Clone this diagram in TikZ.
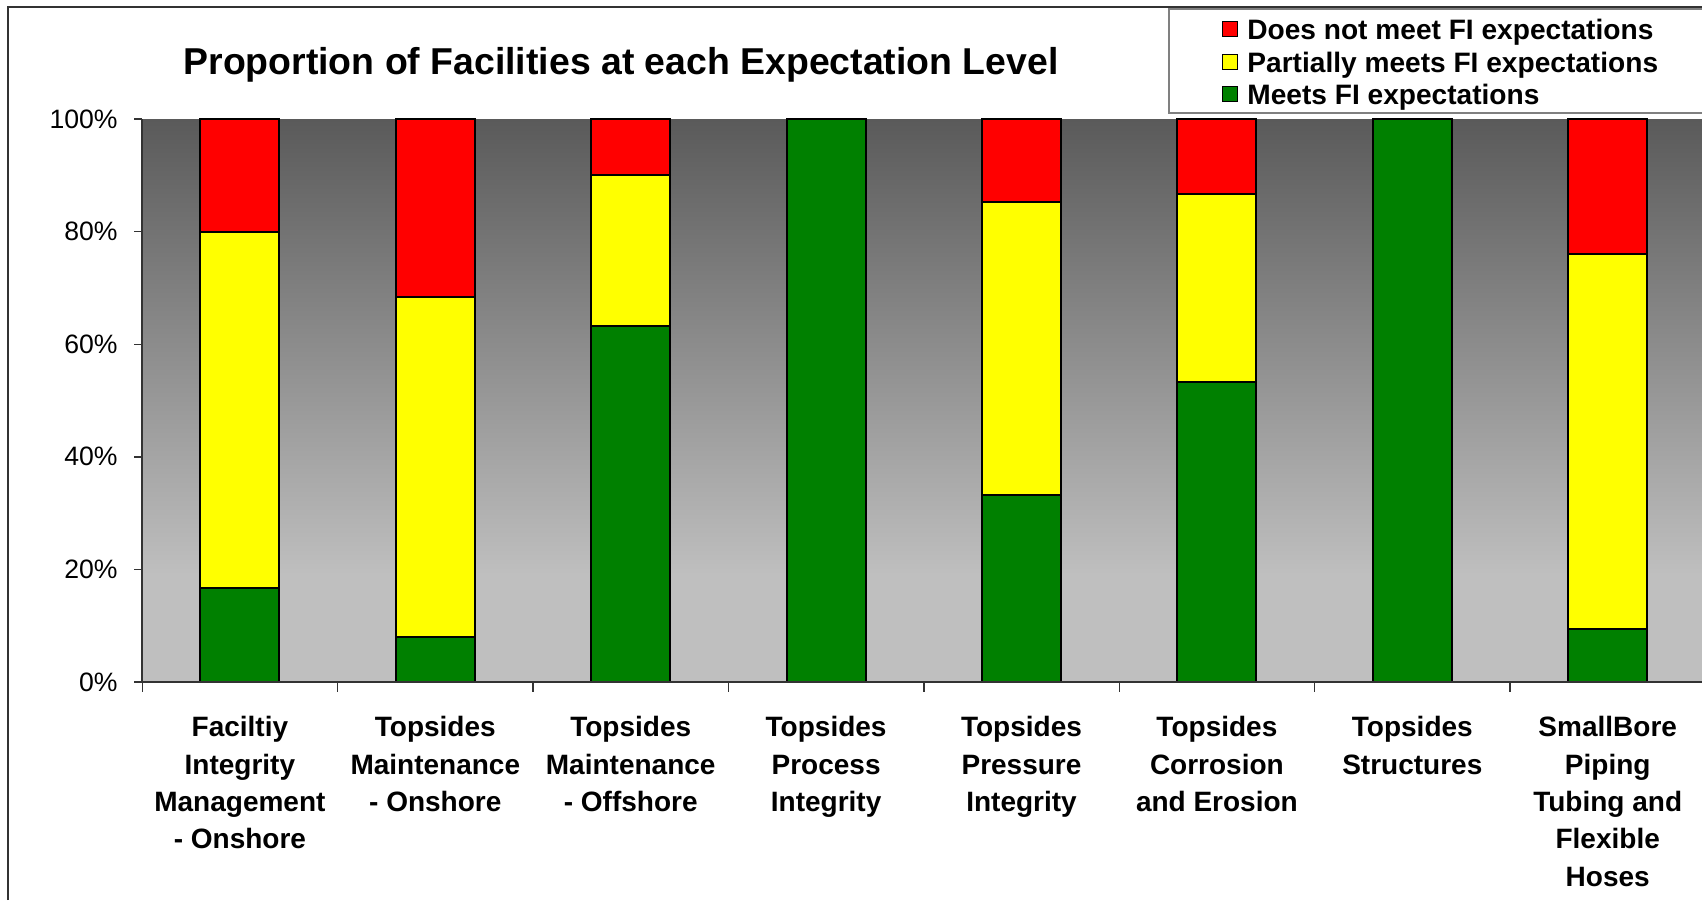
\documentclass[tikz,border=0pt]{standalone}
\usepackage{fontspec}
\setmainfont{Liberation Sans}
\definecolor{barred}{HTML}{FF0000}
\definecolor{baryellow}{HTML}{FFFF00}
\definecolor{bargreen}{HTML}{008000}
\definecolor{bgtop}{HTML}{5A5A5A}
\definecolor{bgbot}{HTML}{BFBFBF}
\definecolor{framegray}{HTML}{333333}
\definecolor{legendgray}{HTML}{808080}
\pgfdeclareverticalshading{plotbg}{100bp}{color(0bp)=(bgbot); color(34.5bp)=(bgbot); color(75bp)=(bgtop); color(100bp)=(bgtop)}
\tikzset{
  barseg/.style={draw=black, line width=1pt},
  axisline/.style={draw=framegray, line width=0.9pt},
  tickline/.style={draw=framegray, line width=0.7pt},
  catlabel/.style={font=\fontsize{14}{18.7}\selectfont\bfseries, align=center, anchor=north, inner sep=0pt},
  ylabel/.style={font=\fontsize{13.3}{16}\selectfont, anchor=east, inner sep=0pt},
  legtext/.style={font=\fontsize{14.05}{16}\selectfont\bfseries, anchor=base west, inner sep=0pt},
  legsq/.style={draw=black, line width=0.5pt},
}
\begin{document}
\begin{tikzpicture}[x=0.5pt, y=-0.5pt]
\useasboundingbox (0,0) rectangle (1702,900);
\clip (0,0) rectangle (1702,900);
\fill[white] (0,0) rectangle (1702,900);
% outer frame
\draw[framegray, line width=1pt] (8,900) -- (8,7) -- (1710,7);
% plot area
\shade[shading=plotbg] (142.2,119) rectangle (1710,682);
% bars: index / green top / yellow top
\foreach \i/\g/\yt in {1/16.7/80, 2/8/68.4, 3/63.2/90, 4/100/100, 5/33.3/85.3, 6/53.3/86.7, 7/100/100, 8/9.5/76}{
  \pgfmathsetmacro{\cx}{142.2+195.4*(\i-0.5)}
  \pgfmathsetmacro{\xl}{\cx-39.5}
  \pgfmathsetmacro{\xr}{\cx+39.5}
  \pgfmathsetmacro{\yg}{682-5.63*\g}
  \pgfmathsetmacro{\yy}{682-5.63*\yt}
  \filldraw[barseg, fill=bargreen] (\xl,682) rectangle (\xr,\yg);
  \ifdim \g pt<100pt
    \filldraw[barseg, fill=baryellow] (\xl,\yg) rectangle (\xr,\yy);
    \filldraw[barseg, fill=barred] (\xl,\yy) rectangle (\xr,119);
  \fi
}
% axes
\draw[axisline] (142.2,119) -- (142.2,682) -- (1710,682);
\foreach \k in {0,...,8}{
  \draw[tickline] ({142.2+195.4*\k},682) -- ({142.2+195.4*\k},692);
}
\foreach \p/\lab in {0/0\%, 20/20\%, 40/40\%, 60/60\%, 80/80\%, 100/100\%}{
  \draw[tickline] (134,{682-5.63*\p}) -- (142.2,{682-5.63*\p});
  \node[ylabel] (y\p) at (118,{682-5.63*\p}) {\lab};
}
% title
\node[font=\fontsize{18.7}{22}\selectfont\bfseries, anchor=base, inner sep=0pt] (title) at (621,74.5) {Proportion of Facilities at each Expectation Level};
% category labels
\node[catlabel] (c1) at (239.9,716) {Faciltiy\\Integrity\\Management\\- Onshore};
\node[catlabel] (c2) at (435.3,716) {Topsides\\Maintenance\\- Onshore};
\node[catlabel] (c3) at (630.7,716) {Topsides\\Maintenance\\- Offshore};
\node[catlabel] (c4) at (826.1,716) {Topsides\\Process\\Integrity};
\node[catlabel] (c5) at (1021.5,716) {Topsides\\Pressure\\Integrity};
\node[catlabel] (c6) at (1216.9,716) {Topsides\\Corrosion\\and Erosion};
\node[catlabel] (c7) at (1412.3,716) {Topsides\\Structures};
\node[catlabel] (c8) at (1607.7,716) {SmallBore\\Piping\\Tubing and\\Flexible\\Hoses};
% legend
\filldraw[draw=legendgray, fill=white, line width=0.75pt] (1169,9) rectangle (1710,113);
\filldraw[legsq, fill=barred] (1222,21.5) rectangle (1237,36.5);
\filldraw[legsq, fill=baryellow] (1222,54.5) rectangle (1237,69.5);
\filldraw[legsq, fill=bargreen] (1222,86.5) rectangle (1237,101.5);
\node[legtext] (l1) at (1247,39) {Does not meet FI expectations};
\node[legtext] (l2) at (1247,72) {Partially meets FI expectations};
\node[legtext] (l3) at (1247,104) {Meets FI expectations};
\end{tikzpicture}
\end{document}
